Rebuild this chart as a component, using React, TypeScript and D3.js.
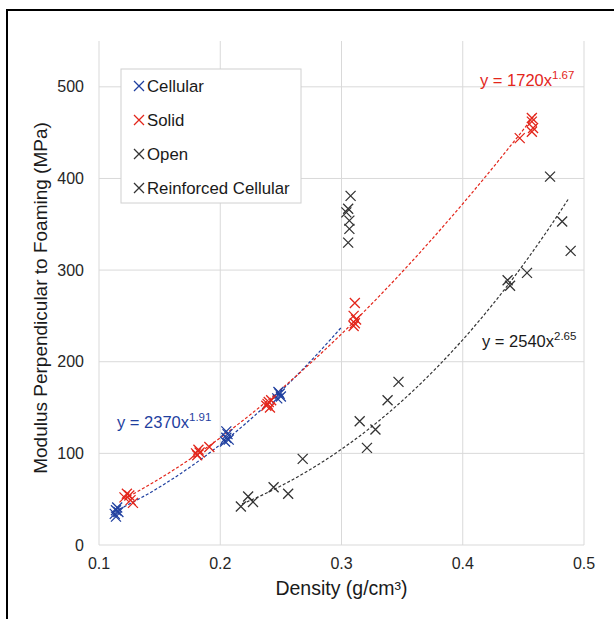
import * as d3 from "d3";
import React from "react";

// data
const cellular: [number, number][] = [
  [0.113, 34], [0.114, 38], [0.115, 41], [0.116, 36], [0.114, 31],
  [0.204, 113], [0.205, 117], [0.206, 121], [0.207, 115], [0.205, 124],
  [0.247, 160], [0.249, 165], [0.25, 162], [0.248, 167],
];
const solid: [number, number][] = [
  [0.121, 52], [0.123, 56], [0.125, 54], [0.126, 49], [0.128, 46],
  [0.18, 100], [0.182, 104], [0.183, 101], [0.181, 98], [0.191, 107],
  [0.238, 152], [0.24, 156], [0.241, 150], [0.242, 158], [0.239, 154],
  [0.311, 264], [0.31, 250], [0.312, 246], [0.311, 242], [0.31, 239],
  [0.447, 444], [0.457, 466], [0.457, 462], [0.458, 455], [0.457, 451],
];
const open: [number, number][] = [
  [0.217, 42], [0.223, 53], [0.227, 47], [0.244, 63], [0.256, 56],
  [0.268, 94], [0.315, 135], [0.321, 106], [0.328, 126], [0.338, 158],
  [0.347, 178], [0.437, 289], [0.439, 283], [0.453, 297], [0.472, 402],
  [0.482, 353], [0.489, 321],
];
const reinforced: [number, number][] = [
  [0.3075, 381], [0.3055, 367], [0.304, 363], [0.3065, 354], [0.3065, 345], [0.3055, 330],
];

// power-law trendlines y = a * x^b, as printed on the chart
const fits = [
  { a: 2370, b: 1.91, from: 0.113, to: 0.3, color: "#1f3f9f" },
  { a: 1720, b: 1.67, from: 0.121, to: 0.46, color: "#e3261b" },
  { a: 2540, b: 2.65, from: 0.218, to: 0.487, color: "#333333" },
];

const xTicks = [0.1, 0.2, 0.3, 0.4, 0.5];
const yTicks = [0, 100, 200, 300, 400, 500];

const legendItems = [
  { label: "Cellular", color: "#1f3f9f" },
  { label: "Solid", color: "#e3261b" },
  { label: "Open", color: "#333333" },
  { label: "Reinforced Cellular", color: "#333333" },
];

const font = "'Liberation Sans', Arial, sans-serif";

function Cross({ x, y, color, s = 5 }: { x: number; y: number; color: string; s?: number }) {
  return (
    <path
      d={`M${x - s},${y - s}L${x + s},${y + s}M${x - s},${y + s}L${x + s},${y - s}`}
      stroke={color}
      strokeWidth={1.3}
      fill="none"
    />
  );
}

export default function App() {
  const width = 614;
  const height = 619;

  const x = d3.scaleLinear().domain([0.1, 0.5]).range([99, 584]);
  const y = d3.scaleLinear().domain([0, 550]).range([545, 41]);

  const fitPath = (f: typeof fits[0]) => {
    const xs = d3.range(0, 101).map((i) => f.from + ((f.to - f.from) * i) / 100);
    return d3
      .line<number>()
      .x((d) => x(d))
      .y((d) => y(f.a * Math.pow(d, f.b)))(xs);
  };

  const series = [
    { pts: cellular, color: "#1f3f9f" },
    { pts: solid, color: "#e3261b" },
    { pts: open, color: "#333333" },
    { pts: reinforced, color: "#333333" },
  ];

  return (
    <svg
      width={width}
      height={height}
      style={{ position: "absolute", left: 0, top: 0, background: "#fff" }}
      fontFamily={font}
    >
      <rect x={7} y={10} width={720} height={720} fill="none" stroke="#000" strokeWidth={2} />

      {/* gridlines */}
      {yTicks.map((t) => (
        <line key={"gy" + t} x1={x(0.1)} x2={x(0.5)} y1={y(t)} y2={y(t)} stroke="#d9d9d9" strokeWidth={1} />
      ))}
      {xTicks.map((t) => (
        <line key={"gx" + t} x1={x(t)} x2={x(t)} y1={y(550)} y2={y(0)} stroke="#d9d9d9" strokeWidth={1} />
      ))}

      {/* tick labels */}
      {yTicks.map((t) => (
        <text key={"ly" + t} x={84} y={y(t) + 5.5} textAnchor="end" fontSize={16} fill="#262626">
          {t}
        </text>
      ))}
      {xTicks.map((t) => (
        <text key={"lx" + t} x={x(t)} y={569} textAnchor="middle" fontSize={16} fill="#262626">
          {d3.format(".1f")(t)}
        </text>
      ))}

      {/* axis titles */}
      <text x={x(0.3)} y={595} textAnchor="middle" fontSize={19.5} fill="#1a1a1a">
        Density (g/cm³)
      </text>
      <text
        transform={`translate(47,298) rotate(-90)`}
        textAnchor="middle"
        fontSize={19}
        fill="#1a1a1a"
      >
        Modulus Perpendicular to Foaming (MPa)
      </text>

      {/* trendlines */}
      {fits.map((f, i) => (
        <path key={"f" + i} d={fitPath(f) || ""} fill="none" stroke={f.color} strokeWidth={1.2} strokeDasharray="3,2" />
      ))}

      {/* points */}
      {series.map((s, si) =>
        s.pts.map((p, pi) => <Cross key={si + "-" + pi} x={x(p[0])} y={y(p[1])} color={s.color} />)
      )}

      {/* equations */}
      <text x={117} y={428} fontSize={16.5} fill="#1f3f9f">
        y = 2370x<tspan dy={-7} fontSize={11.5}>1.91</tspan>
      </text>
      <text x={480} y={86} fontSize={16.5} fill="#e3261b">
        y = 1720x<tspan dy={-7} fontSize={11.5}>1.67</tspan>
      </text>
      <text x={482} y={347} fontSize={16.5} fill="#1a1a1a">
        y = 2540x<tspan dy={-7} fontSize={11.5}>2.65</tspan>
      </text>

      {/* legend */}
      <rect x={121} y={69} width={180} height={134} fill="#fff" stroke="#d0d0d0" strokeWidth={1} />
      {legendItems.map((l, i) => (
        <g key={l.label}>
          <Cross x={139} y={86 + i * 34} color={l.color} />
          <text x={147} y={92 + i * 34} fontSize={16.8} fill="#1a1a1a">
            {l.label}
          </text>
        </g>
      ))}
    </svg>
  );
}
